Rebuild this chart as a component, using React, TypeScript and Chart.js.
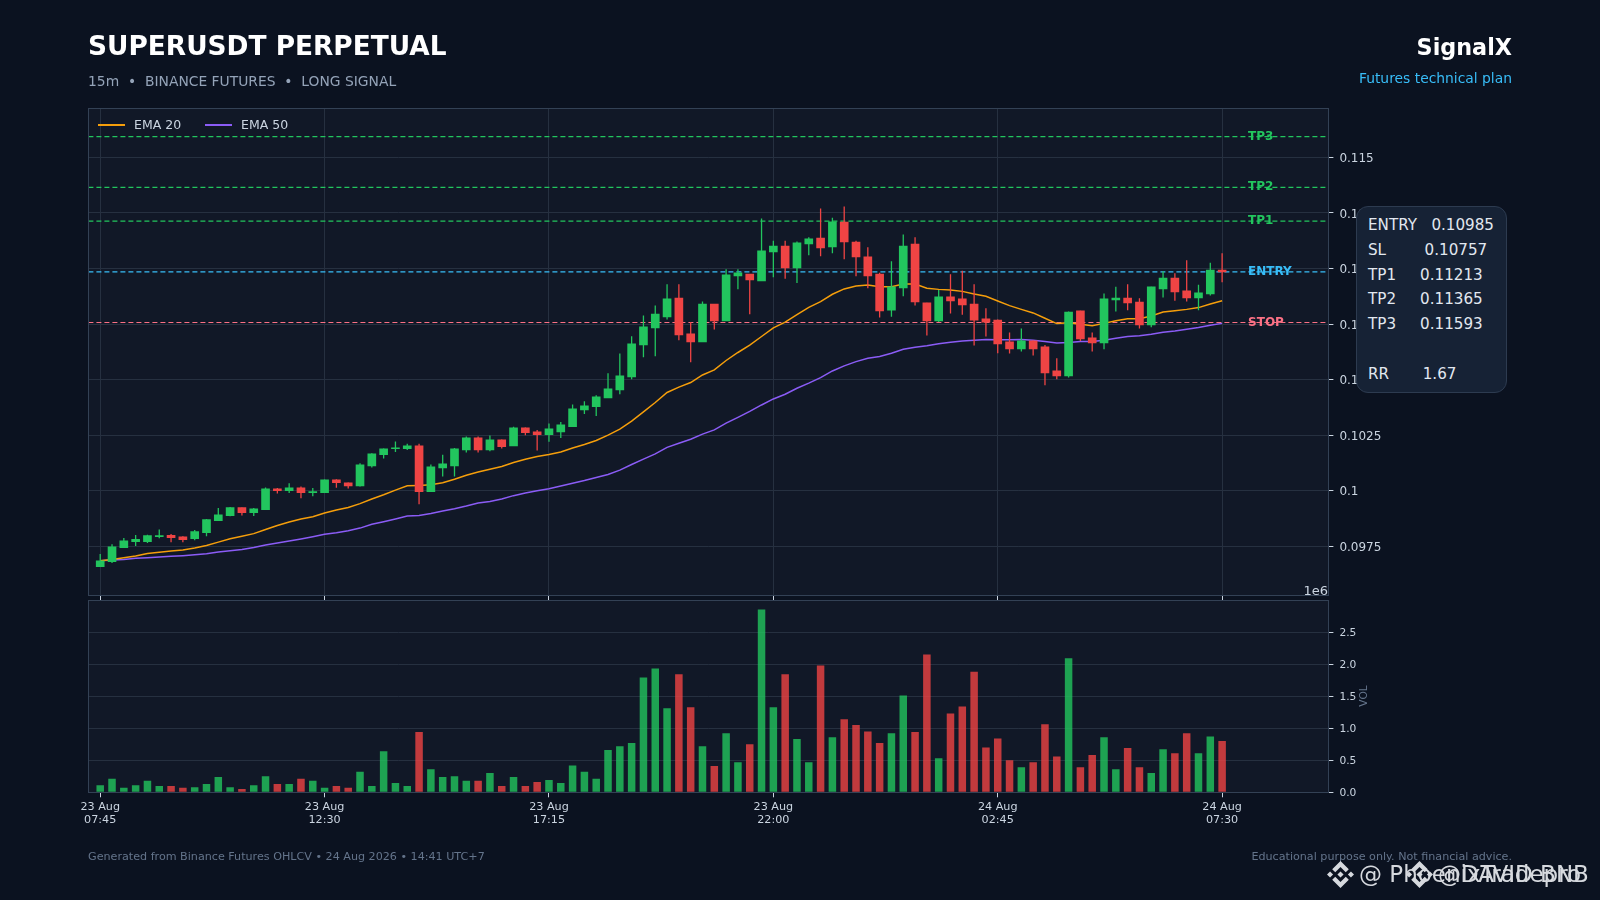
import React, { useEffect, useRef } from 'react';
import { Chart, registerables } from 'chart.js';

Chart.register(...registerables);
Chart.defaults.font.family = '"DejaVu Sans", sans-serif';

const opens = [
  0.09658, 0.09681, 0.09744, 0.09771, 0.09771, 0.09793, 0.09799, 0.09793, 0.09784, 0.09811,
  0.09865, 0.09888, 0.09924, 0.09901, 0.09915, 0.10009, 0.1, 0.10013, 0.09991, 0.09991,
  0.10049, 0.10036, 0.10022, 0.10112, 0.10162, 0.10189, 0.10189, 0.10202, 0.09996, 0.10103,
  0.10112, 0.10184, 0.10238, 0.10184, 0.10229, 0.10202, 0.10283, 0.10265, 0.10252, 0.10265,
  0.10288, 0.10364, 0.10378, 0.10418, 0.10454, 0.10512, 0.10656, 0.10733, 0.10782, 0.10867,
  0.10706, 0.1067, 0.1084, 0.10764, 0.10966, 0.10975, 0.10944, 0.11074, 0.11101, 0.11002,
  0.1111, 0.11137, 0.11097, 0.11209, 0.11119, 0.11052, 0.10975, 0.10813, 0.10912, 0.1111,
  0.10845, 0.10764, 0.10872, 0.10863, 0.1084, 0.10773, 0.10768, 0.1067, 0.10638, 0.10674,
  0.10647, 0.10539, 0.10517, 0.10809, 0.10688, 0.10665, 0.10858, 0.10867, 0.10849, 0.10746,
  0.10908, 0.10957, 0.10899, 0.10867, 0.10885, 0.10993,
];
const closes = [
  0.09685, 0.09748, 0.09775, 0.09781, 0.09798, 0.09798, 0.09789, 0.0978, 0.09816, 0.0987,
  0.09892, 0.09924, 0.09901, 0.09919, 0.10009, 0.1, 0.10013, 0.09991, 0.09996, 0.10049,
  0.10036, 0.10022, 0.10117, 0.10166, 0.10189, 0.10193, 0.10202, 0.09996, 0.10108, 0.10121,
  0.10189, 0.10238, 0.10184, 0.10229, 0.10198, 0.10283, 0.10261, 0.10252, 0.10279, 0.10297,
  0.10369, 0.10382, 0.10422, 0.10458, 0.10517, 0.10661, 0.10737, 0.10795, 0.10863, 0.10701,
  0.1067, 0.1084, 0.10764, 0.10971, 0.1098, 0.10948, 0.11079, 0.11101, 0.11002, 0.11115,
  0.11133, 0.11092, 0.1121, 0.11119, 0.11052, 0.10966, 0.10809, 0.10917, 0.11101, 0.10849,
  0.10764, 0.10872, 0.10854, 0.10836, 0.10768, 0.10759, 0.10661, 0.10638, 0.10674, 0.10638,
  0.1053, 0.10517, 0.10804, 0.10683, 0.10665, 0.10863, 0.10867, 0.10845, 0.10746, 0.10917,
  0.10957, 0.10894, 0.10867, 0.1089, 0.10993, 0.10984,
];
const highs = [
  0.09715, 0.09759, 0.09787, 0.09801, 0.09802, 0.09826, 0.09805, 0.09795, 0.09823, 0.09873,
  0.09922, 0.09927, 0.09925, 0.09922, 0.10015, 0.10012, 0.10034, 0.10019, 0.10012, 0.10051,
  0.10052, 0.10037, 0.10124, 0.10169, 0.1019, 0.10222, 0.10211, 0.10211, 0.10118, 0.10162,
  0.10192, 0.10244, 0.10244, 0.10249, 0.10231, 0.10288, 0.10285, 0.10273, 0.10303, 0.10309,
  0.10388, 0.10403, 0.1043, 0.10529, 0.10617, 0.10695, 0.10788, 0.10833, 0.10929, 0.10929,
  0.10759, 0.10851, 0.1084, 0.10996, 0.10996, 0.10975, 0.11225, 0.11125, 0.11125, 0.11121,
  0.1114, 0.1127, 0.11228, 0.11279, 0.11125, 0.11095, 0.10981, 0.11032, 0.11153, 0.1114,
  0.10846, 0.10903, 0.10974, 0.1099, 0.10929, 0.10821, 0.1077, 0.10712, 0.1073, 0.10676,
  0.10656, 0.10596, 0.10806, 0.1081, 0.10712, 0.10888, 0.10918, 0.10929, 0.10866, 0.10918,
  0.10987, 0.10978, 0.11037, 0.10927, 0.11026, 0.11068,
];
const lows = [
  0.09658, 0.09675, 0.09744, 0.09751, 0.09765, 0.09786, 0.09768, 0.09768, 0.09777, 0.09795,
  0.09865, 0.09885, 0.09889, 0.09886, 0.09915, 0.09988, 0.0999, 0.09966, 0.09975, 0.0999,
  0.10013, 0.1001, 0.10019, 0.10105, 0.10145, 0.10174, 0.10183, 0.09939, 0.09996, 0.10064,
  0.10064, 0.10172, 0.10172, 0.10178, 0.1019, 0.10202, 0.1025, 0.10181, 0.1022, 0.10237,
  0.10288, 0.10345, 0.10336, 0.10418, 0.10434, 0.10502, 0.10601, 0.10605, 0.10771, 0.10677,
  0.10578, 0.1067, 0.10725, 0.10764, 0.10906, 0.10794, 0.10944, 0.1096, 0.10954, 0.10935,
  0.11059, 0.11055, 0.11068, 0.11041, 0.10965, 0.10911, 0.10779, 0.10783, 0.10875, 0.10833,
  0.10698, 0.10759, 0.10797, 0.10792, 0.10653, 0.10694, 0.10619, 0.10617, 0.10626, 0.10608,
  0.10475, 0.10502, 0.10509, 0.10674, 0.10626, 0.10637, 0.10807, 0.10812, 0.1073, 0.10736,
  0.1087, 0.10855, 0.10851, 0.10812, 0.10878, 0.10938,
];
// millions
const volumes = [
  0.11, 0.21, 0.07, 0.11, 0.18, 0.1, 0.1, 0.07, 0.08, 0.13,
  0.24, 0.08, 0.05, 0.11, 0.25, 0.13, 0.13, 0.21, 0.18, 0.07,
  0.1, 0.07, 0.32, 0.1, 0.64, 0.145, 0.1, 0.94, 0.36, 0.24,
  0.25, 0.18, 0.18, 0.3, 0.1, 0.24, 0.1, 0.16, 0.19, 0.145,
  0.42, 0.32, 0.21, 0.66, 0.72, 0.77, 1.79, 1.93, 1.31, 1.84,
  1.325, 0.72, 0.41, 0.92, 0.47, 0.75, 2.85, 1.325, 1.84, 0.83,
  0.47, 1.98, 0.86, 1.14, 1.05, 0.95, 0.77, 0.92, 1.51, 0.94,
  2.15, 0.53, 1.23, 1.34, 1.88, 0.7, 0.84, 0.5, 0.39, 0.47,
  1.06, 0.56, 2.09, 0.39, 0.58, 0.86, 0.36, 0.69, 0.39, 0.3,
  0.67, 0.61, 0.92, 0.61, 0.87, 0.8,
];
const ema20 = [
  0.09685, 0.09691, 0.09699, 0.09706, 0.09718, 0.09723, 0.09729, 0.09733, 0.09742, 0.09754,
  0.09769, 0.09784, 0.09795, 0.09807, 0.09826, 0.09844, 0.09859, 0.09873, 0.09883, 0.099,
  0.09913, 0.09925, 0.09942, 0.09963, 0.09982, 0.10003, 0.10022, 0.10024, 0.10027, 0.10036,
  0.10052, 0.1007, 0.10084, 0.10097, 0.10109, 0.10127, 0.10142, 0.10154, 0.10163, 0.10174,
  0.10192, 0.10208, 0.10226, 0.1025, 0.10277, 0.10313, 0.10355, 0.10397, 0.10442, 0.10466,
  0.10487, 0.10521, 0.10544, 0.10586, 0.10622, 0.10655, 0.10694, 0.10733, 0.10759, 0.10792,
  0.10825, 0.10851, 0.10884, 0.10908, 0.10921, 0.10926, 0.10918, 0.10918, 0.1093, 0.1093,
  0.10911, 0.10906, 0.10903, 0.10897, 0.10885, 0.10875, 0.10854, 0.10833, 0.10816, 0.108,
  0.10776, 0.10752, 0.10756, 0.10749, 0.10742, 0.10753, 0.10765, 0.10774, 0.10774, 0.10786,
  0.10804, 0.1081, 0.10816, 0.10824, 0.1084, 0.10855,
];
const ema50 = [
  0.09685, 0.09688, 0.09691, 0.09696, 0.09699, 0.09702, 0.09705, 0.09708, 0.09712, 0.09717,
  0.09724, 0.0973, 0.09736, 0.09745, 0.09756, 0.09765, 0.09774, 0.09783, 0.09793, 0.09804,
  0.09811, 0.0982, 0.09832, 0.09849, 0.09861, 0.09873, 0.09886, 0.09889, 0.09898, 0.09909,
  0.09919, 0.09931, 0.09945, 0.09952, 0.09963, 0.09978, 0.0999, 0.1, 0.10009, 0.10021,
  0.10034, 0.10046, 0.1006, 0.10073, 0.10093, 0.10118, 0.10142, 0.10166, 0.10195, 0.10214,
  0.10232, 0.10255, 0.10274, 0.10304, 0.1033, 0.10357, 0.10386, 0.10413, 0.10434, 0.10461,
  0.10484, 0.10509, 0.10539, 0.10562, 0.10581, 0.10596, 0.10604, 0.10619, 0.10637, 0.10646,
  0.10652, 0.10661, 0.10668, 0.10674, 0.10677, 0.1068, 0.10679, 0.10679, 0.1068, 0.10677,
  0.10671, 0.10665, 0.10667, 0.10671, 0.10671, 0.10677, 0.10686, 0.10694, 0.10697, 0.10704,
  0.10713, 0.10719, 0.10727, 0.10734, 0.10745, 0.10753,
];

const levelNames = ['TP3', 'TP2', 'TP1', 'ENTRY', 'STOP'];
const levelValues = [0.11593, 0.11365, 0.11213, 0.10985, 0.10757];
const levelColors = ['#22c55e', '#22c55e', '#22c55e', '#38bdf8', '#fb7185'];

const xTickIndex = [0, 19, 38, 57, 76, 95];
const xTickLabels = [
  ['23 Aug', '07:45'],
  ['23 Aug', '12:30'],
  ['23 Aug', '17:15'],
  ['23 Aug', '22:00'],
  ['24 Aug', '02:45'],
  ['24 Aug', '07:30'],
];
const priceTicks = [0.0975, 0.1, 0.1025, 0.105, 0.1075, 0.11, 0.1125, 0.115];
const volumeTicks = [0, 0.5, 1, 1.5, 2, 2.5];

const planLines = [
  'ENTRY   0.10985',
  'SL        0.10757',
  'TP1     0.11213',
  'TP2     0.11365',
  'TP3     0.11593',
  ' ',
  'RR       1.67',
];

const X_MIN = -1;
const X_MAX = 104;
const GREEN = '#22c55e';
const RED = '#ef4444';
const GRID = '#263040';
const SPINE = '#334155';
const TICK = '#cbd5e1';

const upColor = (i: number) => closes[i] >= opens[i];

// frame round the plot area
const spinePlugin = {
  id: 'spines',
  afterDatasetsDraw(chart: any) {
    const { ctx, chartArea: a } = chart;
    ctx.save();
    ctx.strokeStyle = SPINE;
    ctx.lineWidth = 1;
    ctx.strokeRect(Math.round(a.left) + 0.5, Math.round(a.top) + 0.5, Math.round(a.width), Math.round(a.height));
    ctx.restore();
  },
};

// TP / ENTRY / STOP captions sitting on their dashed lines
const levelLabelPlugin = {
  id: 'levelLabels',
  afterDatasetsDraw(chart: any) {
    const { ctx, scales } = chart;
    ctx.save();
    ctx.font = 'bold 12px "DejaVu Sans"';
    ctx.textBaseline = 'middle';
    ctx.textAlign = 'left';
    levelNames.forEach((name, i) => {
      ctx.fillStyle = levelColors[i];
      ctx.fillText(name, scales.x.getPixelForValue(97.2), scales.y.getPixelForValue(levelValues[i]));
    });
    ctx.restore();
  },
};

// tick labels must not push the plot area in
const fitRightAxis = (s: any) => {
  s.width = 1600 - 1328.4;
  s.paddingTop = 0;
  s.paddingBottom = 0;
};

function PriceChart() {
  const canvasRef = useRef<HTMLCanvasElement | null>(null);

  useEffect(() => {
    if (!canvasRef.current) return;
    const chart = new Chart(canvasRef.current, {
      type: 'bar',
      data: {
        datasets: [
          {
            label: 'body',
            data: opens.map((o, i) => ({ x: i, y: [o, closes[i]] })),
            backgroundColor: opens.map((_, i) => (upColor(i) ? GREEN : RED)),
            barThickness: 8,
            grouped: false,
            order: 0,
          },
          {
            label: 'wick',
            data: lows.map((l, i) => ({ x: i, y: [l, highs[i]] })),
            backgroundColor: opens.map((_, i) => (upColor(i) ? GREEN : RED)),
            barThickness: 1.3,
            inflateAmount: 0,
            grouped: false,
            order: 1,
          },
          {
            type: 'line',
            label: 'EMA 20',
            data: ema20.map((y, x) => ({ x, y })),
            borderColor: '#f59e0b',
            borderWidth: 1.5,
            pointRadius: 0,
            order: 2,
          },
          {
            type: 'line',
            label: 'EMA 50',
            data: ema50.map((y, x) => ({ x, y })),
            borderColor: '#8b5cf6',
            borderWidth: 1.5,
            pointRadius: 0,
            order: 3,
          },
          ...levelValues.map((v, i) => ({
            type: 'line' as const,
            label: levelNames[i],
            data: [{ x: X_MIN, y: v }, { x: X_MAX, y: v }],
            borderColor: levelColors[i],
            borderWidth: 1.2,
            borderDash: [5, 3],
            pointRadius: 0,
            order: 4,
          })),
        ] as any,
      },
      options: {
        responsive: false,
        animation: false,
        layout: { padding: { left: 88.4, top: 108, right: 0, bottom: 0 } },
        plugins: { legend: { display: false }, tooltip: { enabled: false } },
        scales: {
          x: {
            type: 'linear',
            min: X_MIN,
            max: X_MAX,
            offset: false,
            border: { display: false },
            grid: { offset: false, color: GRID, tickColor: TICK, tickLength: 5 },
            ticks: { display: false },
            afterBuildTicks: (s: any) => { s.ticks = xTickIndex.map((value) => ({ value })); },
            afterFit: (s: any) => { s.height = 5; },
          },
          y: {
            position: 'right',
            min: 0.09531,
            max: 0.11722,
            border: { display: false },
            grid: { color: GRID, tickColor: TICK, tickLength: 5 },
            ticks: { color: TICK, font: { size: 12 }, padding: 6, labelOffset: 1.5, autoSkip: false, callback: (v: any) => String(v) },
            afterBuildTicks: (s: any) => { s.ticks = priceTicks.map((value) => ({ value })); },
            afterFit: fitRightAxis,
          },
        },
      } as any,
      plugins: [spinePlugin, levelLabelPlugin],
    });
    return () => chart.destroy();
  }, []);

  return <canvas ref={canvasRef} width={1600} height={600} style={{ position: 'absolute', left: 0, top: 0 }} />;
}

function VolumeChart() {
  const canvasRef = useRef<HTMLCanvasElement | null>(null);

  useEffect(() => {
    if (!canvasRef.current) return;
    const chart = new Chart(canvasRef.current, {
      type: 'bar',
      data: {
        datasets: [
          {
            label: 'VOL',
            data: volumes.map((y, x) => ({ x, y })),
            backgroundColor: volumes.map((_, i) => (upColor(i) ? 'rgba(34,197,94,0.8)' : 'rgba(239,68,68,0.8)')),
            barThickness: 7.5,
            inflateAmount: 0,
          },
        ],
      },
      options: {
        responsive: false,
        animation: false,
        layout: { padding: { left: 88.4, top: 4, right: 0, bottom: 0 } },
        plugins: { legend: { display: false }, tooltip: { enabled: false } },
        scales: {
          x: {
            type: 'linear',
            min: X_MIN,
            max: X_MAX,
            offset: false,
            border: { display: false },
            grid: { offset: false, drawOnChartArea: false, tickColor: TICK, tickLength: 5 },
            ticks: {
              color: TICK,
              font: { size: 11.2 },
              padding: 3,
              autoSkip: false,
              maxRotation: 0,
              callback: (v: any) => xTickLabels[xTickIndex.indexOf(v)],
            },
            afterBuildTicks: (s: any) => { s.ticks = xTickIndex.map((value) => ({ value })); },
            afterFit: (s: any) => { s.height = 107.7; },
          },
          y: {
            position: 'right',
            min: 0,
            max: 3,
            border: { display: false },
            grid: { color: GRID, tickColor: TICK, tickLength: 5 },
            ticks: { color: TICK, font: { size: 10.67 }, padding: 6, labelOffset: 1, autoSkip: false, callback: (v: any) => Number(v).toFixed(1) },
            afterBuildTicks: (s: any) => { s.ticks = volumeTicks.map((value) => ({ value })); },
            afterFit: fitRightAxis,
          },
        },
      } as any,
      plugins: [spinePlugin],
    });
    return () => chart.destroy();
  }, []);

  return <canvas ref={canvasRef} width={1600} height={304} style={{ position: 'absolute', left: 0, top: 596 }} />;
}

function BnbLogo({ left, top }: { left: number; top: number }) {
  return (
    <svg viewBox="0 0 126.61 126.61" width={27} height={27} style={{ position: 'absolute', left, top }}>
      <path
        fill="#d6d9de"
        d="M38.73 53.2l24.59-24.58 24.6 24.6 14.3-14.31L63.32 0 24.42 38.89z M0 63.31l14.3-14.31 14.31 14.31-14.31 14.3z M38.73 73.41l24.59 24.59 24.6-24.6 14.31 14.29-38.9 38.91-38.91-38.88z M98 63.31l14.3-14.31 14.31 14.3-14.31 14.32z M77.83 63.3L63.32 48.78 52.59 59.51l-1.24 1.23-2.54 2.54 14.51 14.5 14.51-14.47z"
      />
    </svg>
  );
}

const text = (style: React.CSSProperties): React.CSSProperties => ({
  position: 'absolute',
  whiteSpace: 'pre',
  lineHeight: 1,
  ...style,
});

export default function App() {
  useEffect(() => {
    document.body.style.margin = '0';
    document.body.style.background = '#0b1220';
  }, []);

  return (
    <div
      style={{
        position: 'fixed',
        left: 0,
        top: 0,
        width: 1600,
        height: 900,
        overflow: 'hidden',
        background: '#0b1220',
        fontFamily: '"DejaVu Sans", sans-serif',
      }}
    >
      {/* plot backgrounds go under the transparent canvases */}
      <div style={{ position: 'absolute', left: 88, top: 108, width: 1240, height: 487, background: '#111827' }} />
      <div style={{ position: 'absolute', left: 88, top: 600, width: 1240, height: 192, background: '#111827' }} />
      <PriceChart />
      <VolumeChart />

      <div style={text({ left: 88, top: 33, fontSize: 26.4, fontWeight: 700, color: '#ffffff' })}>SUPERUSDT PERPETUAL</div>
      <div style={text({ left: 88, top: 75, fontSize: 13.87, color: '#94a3b8' })}>15m  •  BINANCE FUTURES  •  LONG SIGNAL</div>
      <div style={text({ right: 88, top: 36, fontSize: 22.3, fontWeight: 700, color: '#ffffff' })}>SignalX</div>
      <div style={text({ right: 88, top: 72, fontSize: 13.87, color: '#38bdf8' })}>Futures technical plan</div>

      {/* legend */}
      <div style={{ position: 'absolute', left: 98, top: 124, width: 27, height: 1.5, background: '#f59e0b' }} />
      <div style={text({ left: 134, top: 119, fontSize: 12.5, color: '#cbd5e1' })}>EMA 20</div>
      <div style={{ position: 'absolute', left: 205, top: 124, width: 27, height: 1.5, background: '#8b5cf6' }} />
      <div style={text({ left: 241, top: 119, fontSize: 12.5, color: '#cbd5e1' })}>EMA 50</div>

      <div style={text({ right: 272, top: 584, fontSize: 13, color: '#cbd5e1' })}>1e6</div>
      <div
        style={text({
          left: 1364,
          top: 696,
          fontSize: 10.67,
          color: '#64748b',
          transform: 'translate(-50%, -50%) rotate(-90deg)',
        })}
      >
        VOL
      </div>

      {/* plan box, drawn over the hidden tick labels */}
      <div
        style={{
          position: 'absolute',
          left: 1356,
          top: 206,
          width: 151,
          height: 187,
          boxSizing: 'border-box',
          background: '#162235',
          border: '1px solid #2d3b50',
          borderRadius: 12,
          paddingLeft: 11,
          paddingTop: 6,
          color: '#e2e8f0',
          fontSize: 15.15,
          whiteSpace: 'pre',
          lineHeight: '24.75px',
        }}
      >
        {planLines.map((line, i) => (
          <div key={i}>{line}</div>
        ))}
      </div>

      <div style={text({ left: 88, top: 851, fontSize: 11.15, color: '#64748b' })}>
        Generated from Binance Futures OHLCV • 24 Aug 2026 • 14:41 UTC+7
      </div>
      <div style={text({ right: 88, top: 851, fontSize: 11.15, color: '#64748b' })}>
        Educational purpose only. Not financial advice.
      </div>

      {/* overlapped reposter watermarks */}
      <BnbLogo left={1327} top={861} />
      <div style={text({ left: 1359, top: 863, fontSize: 23, color: '#d6d9de' })}>@ PhoenixTradepro</div>
      <BnbLogo left={1406} top={861} />
      <div style={text({ left: 1438, top: 863, fontSize: 23, color: '#d6d9de' })}>@DAVID BNB</div>
    </div>
  );
}
